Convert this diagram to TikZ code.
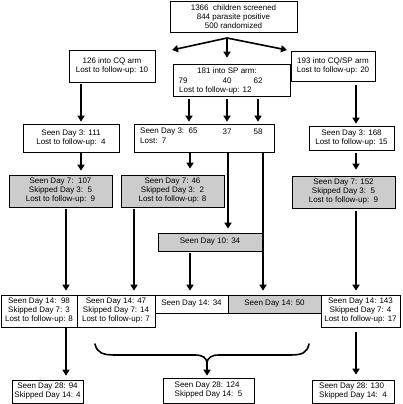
\documentclass[tikz,border=0pt]{standalone}
\usepackage{fontspec}
\setmainfont{Liberation Sans}
\usetikzlibrary{arrows.meta,positioning}

\begin{document}
\begin{tikzpicture}[x=1pt, y=-1pt,
  box/.style={draw, line width=0.6pt, inner sep=0pt, align=center,
    font=\fontsize{8}{9}\selectfont},
  graybox/.style={box, fill=gray!40},
  lbl/.style={inner sep=0pt, font=\fontsize{8}{9}\selectfont},
  arr/.style={line width=1.6pt, -{Triangle[length=6pt,width=7pt]}},
  brace/.style={line width=1.6pt, line cap=round}]
\useasboundingbox (0,0) rectangle (402,404);
% boxes
\node[box, minimum width=127, minimum height=31] (top) at (233.5,16.5)
  {1366\ \ children screened\\844 parasite positive\\500 randomized};
\node[box, minimum width=86, minimum height=32] (cq) at (112,66)
  {126 into CQ arm\\Lost to follow-up: 10};
\node[box, minimum width=117, minimum height=32] (sp) at (231.5,80) {};
\node[box, minimum width=84, minimum height=30] (cqsp) at (333,66)
  {193 into CQ/SP arm\\Lost to follow-up: 20};
\node[lbl] (sp1) at (227,71) {181 into SP arm:};
\node[lbl] (sp2) at (183,81) {79};
\node[lbl] (sp3) at (227,81) {40};
\node[lbl] (sp4) at (258,81) {62};
\node[lbl, anchor=west] (sp5) at (179,90) {Lost to follow-up: 12};
% day 3
\node[box, minimum width=96, minimum height=28] (d3a) at (71,138)
  {Seen Day 3: 111\\Lost to follow-up:\ \ 4};
\node[box, minimum width=140, minimum height=28] (d3b) at (204,138) {};
\node[lbl, anchor=west] (d3b1) at (140,132) {Seen Day 3:\ \ 65};
\node[lbl] (d3b2) at (227,132) {37};
\node[lbl] (d3b3) at (258,132) {58};
\node[lbl, anchor=west] (d3b4) at (140,141) {Lost:\ \ 7};
\node[box, minimum width=85, minimum height=24] (d3c) at (351.5,138)
  {Seen Day 3: 168\\Lost to follow-up: 15};
% day 7 and day 10
\node[graybox, minimum width=103, minimum height=32] (d7a) at (60.5,191)
  {Seen Day 7:\ \ 107\\Skipped Day 3:\ \ 5\\Lost to follow-up:\ \ 9};
\node[graybox, minimum width=103, minimum height=32] (d7b) at (172.5,191)
  {Seen Day 7: 46\\Skipped Day 3:\ \ 2\\Lost to follow-up: 8};
\node[graybox, minimum width=103, minimum height=32] (d7c) at (343.5,192)
  {Seen Day 7: 152\\Skipped Day 3:\ \ 5\\Lost to follow-up:\ \ 9};
\node[graybox, minimum width=104, minimum height=18] (d10) at (210,242)
  {Seen Day 10: 34};
% day 14
\node[box, minimum width=76, minimum height=32] (d14a) at (39,311)
  {Seen Day 14:\ \ 98\\Skipped Day 7: 3\\Lost to follow-up: 8};
\node[box, minimum width=78, minimum height=32] (d14b) at (116,311)
  {Seen Day 14: 47\\Skipped Day 7: 14\\Lost to follow-up: 7};
\node[box, minimum width=73, minimum height=18] (d14c) at (191.5,304)
  {Seen Day 14: 34};
\node[graybox, minimum width=93, minimum height=18] (d14d) at (274.5,304)
  {Seen Day 14: 50};
\node[box, minimum width=79, minimum height=32] (d14e) at (360.5,311)
  {Seen Day 14: 143\\Skipped Day 7: 4\\Lost to follow-up: 17};
% day 28
\node[box, minimum width=71, minimum height=23] (d28a) at (47.5,391.5)
  {Seen Day 28: 94\\Skipped Day 14: 4};
\node[box, align=left, minimum width=91, minimum height=25] (d28b) at (208.5,390.5)
  {Seen Day 28: 124\\Skipped Day 14:\ \ 5};
\node[box, align=left, minimum width=82, minimum height=23] (d28c) at (353,391.5)
  {Seen Day 28: 130\\Skipped Day 14:\ \ 4};
% arrow columns
\coordinate (split) at (227,38);
\coordinate (tocq) at (172,50);
\coordinate (tocqsp) at (287,50);
\coordinate (xcq) at (81,0);
\coordinate (xs1) at (189,0);
\coordinate (xs2) at (227,0);
\coordinate (xs3) at (258,0);
\coordinate (xcs) at (356,0);
\coordinate (xd7b) at (190,0);
\coordinate (xd10) at (228,0);
\coordinate (xd14d) at (263,0);
\coordinate (xd14a) at (66,0);
\coordinate (xd14b) at (134,0);
% arrows
\draw[arr] (split) -- (tocq);
\draw[arr] (split) -- (tocqsp);
\draw[arr, shorten >=6pt] (split) -- (sp.north -| split);
\draw[arr, shorten <=2pt, shorten >=2pt] (cq.south -| xcq) -- (d3a.north -| xcq);
\draw[arr, shorten <=3pt, shorten >=2pt] (sp.south -| xs1) -- (d3b.north -| xs1);
\draw[arr, shorten <=3pt, shorten >=2pt] (sp.south -| xs2) -- (d3b.north -| xs2);
\draw[arr, shorten <=3pt, shorten >=2pt] (sp.south -| xs3) -- (d3b.north -| xs3);
\draw[arr, shorten <=4pt, shorten >=2pt] (cqsp.south -| xcs) -- (d3c.north -| xcs);
\draw[arr, shorten <=1pt, shorten >=4pt] (d3a.south -| xcq) -- (d7a.north -| xcq);
\draw[arr, shorten <=1pt, shorten >=6pt] (d3b.south -| xd7b) -- (d7b.north -| xd7b);
\draw[arr, shorten <=1pt, shorten >=4pt] (d3b.south -| xd10) -- (d10.north -| xd10);
\draw[arr, shorten <=1pt, shorten >=4pt] (d3b.south -| xd14d) -- (d14d.north -| xd14d);
\draw[arr, shorten <=3pt, shorten >=6pt] (d3c.south -| xcs) -- (d7c.north -| xcs);
\draw[arr, shorten <=2pt, shorten >=4pt] (d7a.south -| xd14a) -- (d14a.north -| xd14a);
\draw[arr, shorten <=2pt, shorten >=4pt] (d7b.south -| xd14b) -- (d14b.north -| xd14b);
\draw[arr, shorten <=2pt, shorten >=4pt] (d10.south -| xd7b) -- (d14c.north -| xd7b);
\draw[arr, shorten <=3pt, shorten >=4pt] (d7c.south -| xcs) -- (d14e.north -| xcs);
\draw[arr, shorten >=4pt] (d14a.south -| xd14a) -- (d28a.north -| xd14a);
\draw[arr, shorten <=5pt, shorten >=5pt] (d14e.south -| xcs) -- (d28c.north -| xcs);
% brace
\coordinate (tip) at (207,362);
\draw[brace] (95,344) .. controls (97,353) and (103,355) .. (115,355) -- (195,355)
  .. controls (203,355) and (206,358) .. (tip)
  .. controls (208,358) and (211,355) .. (219,355) -- (290,355)
  .. controls (302,355) and (307,353) .. (309,344);
\draw[arr, shorten >=2pt] (tip) -- (d28b.north -| tip);
\end{tikzpicture}
\end{document}
